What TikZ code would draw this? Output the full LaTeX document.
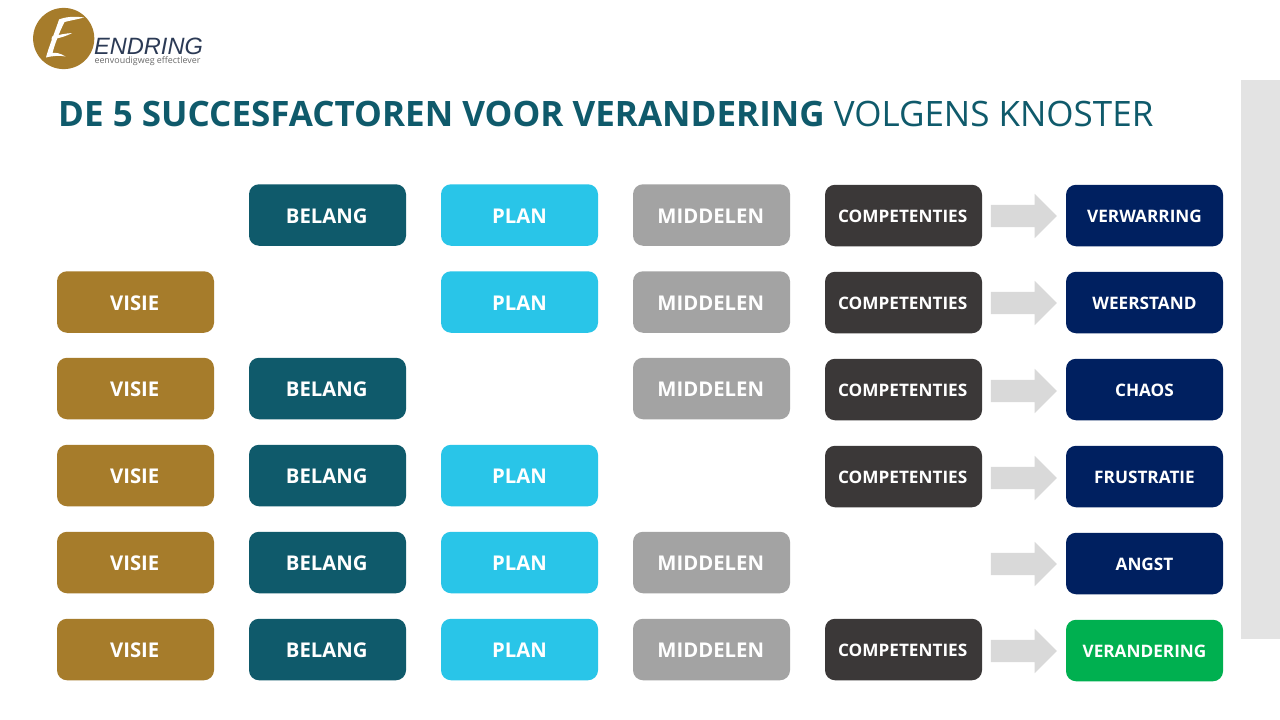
\documentclass[tikz,border=0pt]{standalone}
\usepackage{fontspec}
\setmainfont{Open Sans}
\newfontfamily\logofont{Liberation Sans}
\usetikzlibrary{shapes.arrows}
\definecolor{cgold}{HTML}{A67C2B}
\definecolor{cteal}{HTML}{0F5A6B}
\definecolor{ccyan}{HTML}{29C5E8}
\definecolor{cgray}{HTML}{A3A3A3}
\definecolor{cdark}{HTML}{3B3838}
\definecolor{cnavy}{HTML}{002060}
\definecolor{cgreen}{HTML}{00B050}
\definecolor{carrow}{HTML}{D9D9D9}
\definecolor{cbar}{HTML}{E3E3E3}
\definecolor{clogo}{HTML}{2B3A55}
\tikzset{
  box/.style={rectangle,rounded corners=10pt,minimum width=157pt,minimum height=61.5pt,inner sep=0pt,
    text=white,font=\fontsize{20.3pt}{24pt}\selectfont\bfseries,anchor=center,text height=16.5pt,text depth=0pt},
  smalltext/.style={font=\fontsize{17.2pt}{20pt}\selectfont\bfseries,text height=13.7pt,text depth=0pt},
  nudged/.style={execute at begin node={\kern-1.6pt}},
  visie/.style={box,nudged,fill=cgold},
  belang/.style={box,nudged,fill=cteal},
  plan/.style={box,fill=ccyan},
  middelen/.style={box,nudged,fill=cgray},
  comp/.style={box,smalltext,nudged,fill=cdark},
  result/.style={box,smalltext,fill=cnavy},
  good/.style={box,smalltext,fill=cgreen},
  blockarrow/.style={single arrow,fill=carrow,minimum width=44pt,minimum height=66pt,inner sep=0pt,outer sep=0pt,
    text height=11pt,text depth=11pt,text width=1pt,
    single arrow head extend=11pt,single arrow tip angle=90,anchor=center},
}
\begin{document}
\begin{tikzpicture}[x=1pt,y=-1pt]
\useasboundingbox (0,0) rectangle (1280,720);
\fill[white] (0,0) rectangle (1280,720);
\fill[cbar] (1241,80) rectangle (1280,639);
% logo
\fill[cgold] (63.7,38.5) circle (30.6);
\fill[white]
  (84,17.5) .. controls (74,16) and (65,17) .. (59,19.5)
  .. controls (55,32) and (49,46) .. (46,57.5)
  .. controls (54,55.5) and (60,55.5) .. (65.5,56.5)
  .. controls (60,53) and (56,52.5) .. (52.5,53)
  .. controls (55,43) and (60,31) .. (64.5,22)
  .. controls (70,20.5) and (77,19.5) .. (84,17.5) -- cycle;
\fill[white] (52,36.5) .. controls (58,35) and (65,33.5) .. (72,33)
  .. controls (67,36) and (58,38.5) .. (51.5,39.5) -- cycle;
\node[inner sep=0pt,anchor=base,text depth=0pt,text=clogo,font=\logofont\fontsize{23.6pt}{25pt}\selectfont\itshape] (logoname) at (148.5,54.5) {ENDRING};
\node[inner sep=0pt,text=black!58,font=\fontsize{8.9pt}{10pt}\selectfont] (logotag) at (147.5,61) {eenvoudigweg effectlever};
% title
\node[inner sep=0pt,anchor=west,text=cteal,font=\fontsize{35pt}{40pt}\selectfont] (title) at (58,114)
  {\textbf{DE 5 SUCCESFACTOREN VOOR VERANDERING} VOLGENS KNOSTER};
% row 1
\node[belang] (b1) at (327.5,215) {BELANG};
\node[plan] (p1) at (519.5,215) {PLAN};
\node[middelen] (m1) at (711.5,215) {MIDDELEN};
\node[comp] (c1) at (903.5,215.5) {COMPETENTIES};
\node[result] (r1) at (1144.5,215.5) {VERWARRING};
\node[blockarrow] (a1) at (1018.3,216) {};
% row 2
\node[visie] (v2) at (135.5,302) {VISIE};
\node[plan] (p2) at (519.5,302) {PLAN};
\node[middelen] (m2) at (711.5,302) {MIDDELEN};
\node[comp] (c2) at (903.5,302.5) {COMPETENTIES};
\node[result] (r2) at (1144.5,302.5) {WEERSTAND};
\node[blockarrow] (a2) at (1018.3,303) {};
% row 3
\node[visie] (v3) at (135.5,388.5) {VISIE};
\node[belang] (b3) at (327.5,388.5) {BELANG};
\node[middelen] (m3) at (711.5,388.5) {MIDDELEN};
\node[comp] (c3) at (903.5,389.5) {COMPETENTIES};
\node[result] (r3) at (1144.5,389.5) {CHAOS};
\node[blockarrow] (a3) at (1018.3,391) {};
% row 4
\node[visie] (v4) at (135.5,475.5) {VISIE};
\node[belang] (b4) at (327.5,475.5) {BELANG};
\node[plan] (p4) at (519.5,475.5) {PLAN};
\node[comp] (c4) at (903.5,476.5) {COMPETENTIES};
\node[result] (r4) at (1144.5,476.5) {FRUSTRATIE};
\node[blockarrow] (a4) at (1018.3,478) {};
% row 5
\node[visie] (v5) at (135.5,562.5) {VISIE};
\node[belang] (b5) at (327.5,562.5) {BELANG};
\node[plan] (p5) at (519.5,562.5) {PLAN};
\node[middelen] (m5) at (711.5,562.5) {MIDDELEN};
\node[result] (r5) at (1144.5,563.5) {ANGST};
\node[blockarrow] (a5) at (1018.3,564) {};
% row 6
\node[visie] (v6) at (135.5,649.5) {VISIE};
\node[belang] (b6) at (327.5,649.5) {BELANG};
\node[plan] (p6) at (519.5,649.5) {PLAN};
\node[middelen] (m6) at (711.5,649.5) {MIDDELEN};
\node[comp] (c6) at (903.5,649.5) {COMPETENTIES};
\node[good] (r6) at (1144.5,650.5) {VERANDERING};
\node[blockarrow] (a6) at (1018.3,651) {};
\end{tikzpicture}
\end{document}
